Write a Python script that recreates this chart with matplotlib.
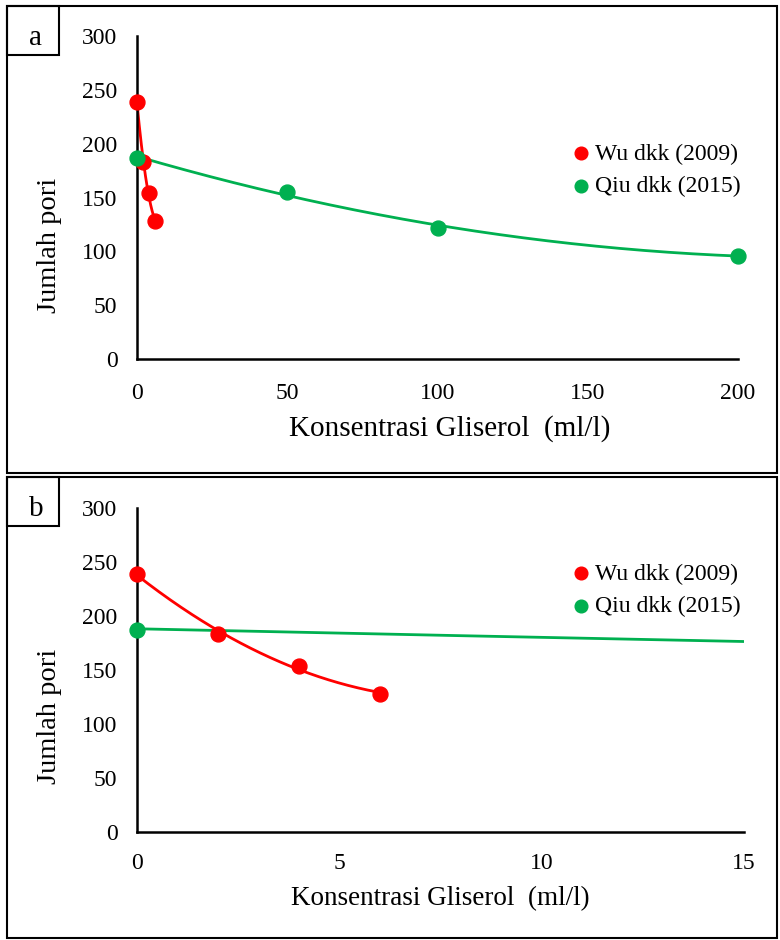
import numpy as np
import matplotlib.pyplot as plt
from matplotlib.patches import Rectangle

plt.rcParams['font.family'] = ['Liberation Serif', 'DejaVu Serif']

# data
wu_x = [0, 2, 4, 6]
wu_y = [239, 183, 154, 128]
qiu_x = [0, 50, 100, 200]
qiu_y = [187, 155, 122, 96]
wu_label = 'Wu dkk (2009)'
qiu_label = 'Qiu dkk (2015)'
y_ticks = [0, 50, 100, 150, 200, 250, 300]
xticks_a = [0, 50, 100, 150, 200]
xticks_b = [0, 5, 10, 15]

RED = '#FF0000'
GREEN = '#00B050'
W, H = 780, 940

fig = plt.figure(figsize=(W / 100, H / 100), dpi=100)


def fx(px):
    return px / W


def fy(py):
    return 1 - py / H


def px_axes(left, top, right, bottom):
    return fig.add_axes([fx(left), fy(bottom), (right - left) / W, (bottom - top) / H])


def trend(x, y, x0, x1):
    # excel-like 2nd order polynomial trendline
    c = np.polyfit(x, y, 2)
    xs = np.linspace(x0, x1, 200)
    return xs, np.polyval(c, xs)


def panel(ax, xmax, xticks, letter, box, leg_y, xlab_pos, ylab_pos, xlab_size, xpad):
    xs, ys = trend(wu_x, wu_y, min(wu_x), max(wu_x))
    ax.plot(xs, ys, color=RED, lw=2, zorder=2)
    xs, ys = trend(qiu_x, qiu_y, min(qiu_x), max(qiu_x))
    ax.plot(xs, ys, color=GREEN, lw=2, zorder=2)
    ax.scatter(wu_x, wu_y, s=115, color=RED, zorder=3, label=wu_label, clip_on=False)
    ax.scatter(qiu_x, qiu_y, s=115, color=GREEN, zorder=3, label=qiu_label, clip_on=False)

    ax.set_xlim(0, xmax)
    ax.set_ylim(0, 300)
    ax.set_xticks(xticks)
    ax.set_yticks(y_ticks)
    ax.tick_params(length=0, labelsize=17)
    ax.tick_params(axis='x', pad=xpad)
    ax.tick_params(axis='y', pad=14)
    for s in ['top', 'right']:
        ax.spines[s].set_visible(False)
    for s in ['left', 'bottom']:
        ax.spines[s].set_linewidth(1.8)

    fig.text(fx(xlab_pos[0]), fy(xlab_pos[1]), 'Konsentrasi Gliserol  (ml/l)',
             fontsize=xlab_size, ha='center', va='center')
    fig.text(fx(ylab_pos[0]), fy(ylab_pos[1]), 'Jumlah pori', fontsize=20.5,
             rotation=90, ha='center', va='center')

    ax.legend(loc='center left', bbox_to_anchor=(fx(561), fy(leg_y)),
              bbox_transform=fig.transFigure, frameon=False, fontsize=17,
              handletextpad=0.15, handlelength=0.9, labelspacing=0.45,
              borderaxespad=0, scatterpoints=1, markerscale=0.85)

    # panel frame and letter box
    l, t, r, b = box
    fig.add_artist(Rectangle((fx(l), fy(b)), (r - l) / W, (b - t) / H,
                             transform=fig.transFigure, fill=False, lw=1.5, color='black'))
    fig.add_artist(Rectangle((fx(l), fy(t + 49)), 52 / W, 49 / H,
                             transform=fig.transFigure, fill=False, lw=1.5, color='black'))
    fig.text(fx(l + 29), fy(t + 39), letter, fontsize=21, ha='center', va='baseline')


ax_a = px_axes(137, 36, 738, 359)
panel(ax_a, 200, xticks_a, 'a', (7, 6, 777, 473), 170, (450, 429), (49, 245), 21, 17)

ax_b = px_axes(137, 508, 744, 832)
panel(ax_b, 15, xticks_b, 'b', (7, 477, 777, 938), 590, (440, 899), (49, 716), 19.5, 15)

fig.savefig('out.png', dpi=100)
